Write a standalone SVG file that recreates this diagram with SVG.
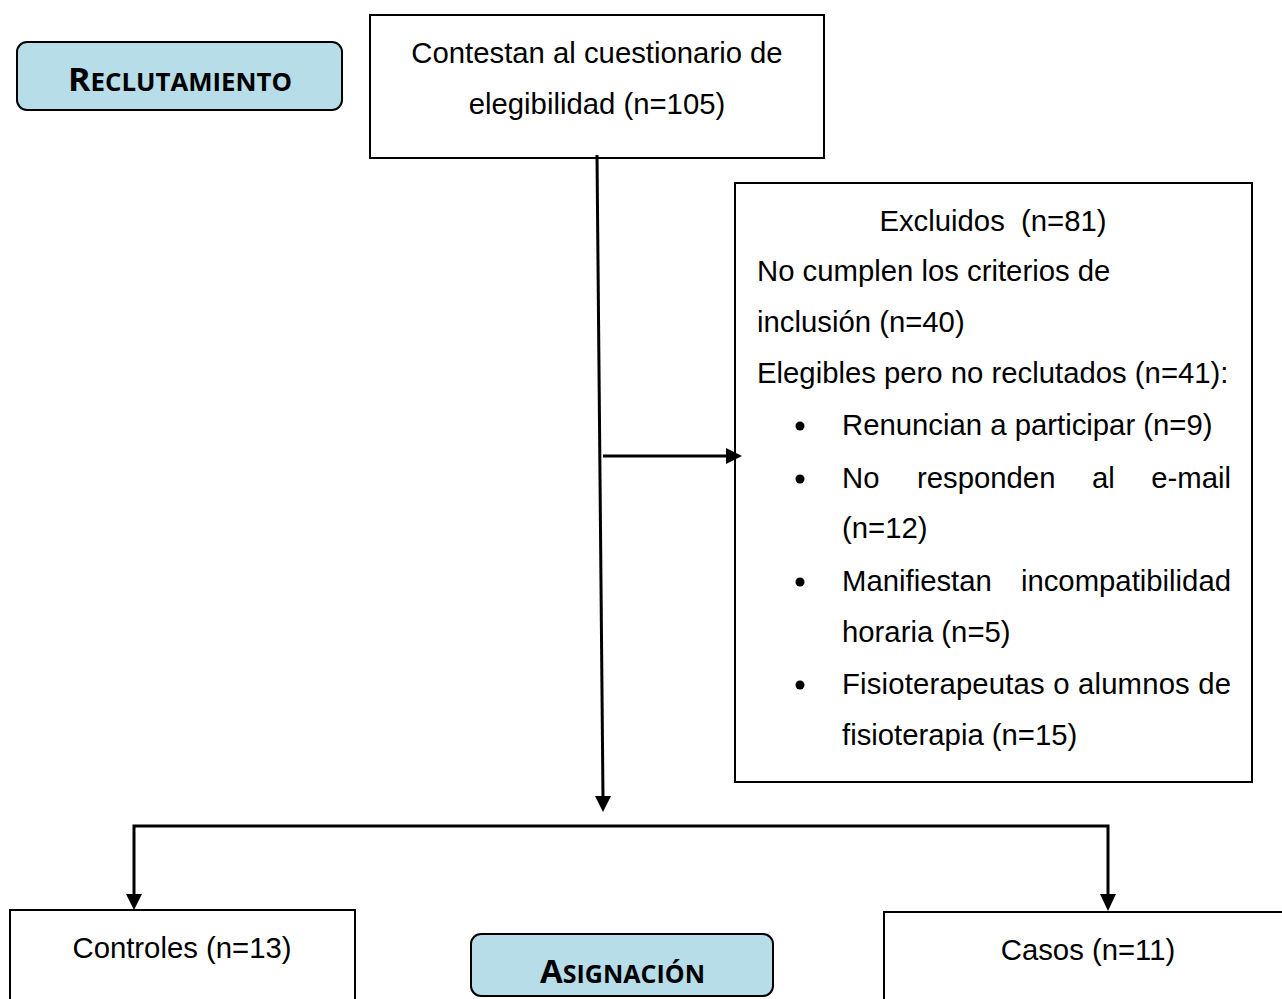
<svg xmlns="http://www.w3.org/2000/svg" width="1282" height="999" viewBox="0 0 1282 999">
<style>
.box{fill:#fff;stroke:#000;stroke-width:2}
.lbl{fill:#b7dde8;stroke:#000;stroke-width:2}
.t{font-family:"Liberation Sans",Arial,sans-serif;font-size:29.3px;fill:#000}
.h{font-family:"Open Sans","Liberation Sans",sans-serif;font-weight:bold;fill:#000}
.c{stroke:#000;stroke-width:3;fill:none}
.ah{fill:#000}
</style>
<rect width="1282" height="999" fill="#fff"/>
<g id="reclutamiento">
<rect class="lbl" x="17" y="42" width="325" height="68" rx="10"/>
<text class="h" x="68" y="91" font-size="25" textLength="224" lengthAdjust="spacingAndGlyphs"><tspan font-size="33">R</tspan>ECLUTAMIENTO</text>
</g>
<g id="contestan">
<rect class="box" x="370" y="15" width="454" height="143"/>
<text class="t" x="597" y="63" text-anchor="middle">Contestan al cuestionario de</text>
<text class="t" x="597" y="114" text-anchor="middle">elegibilidad (n=105)</text>
</g>
<g id="excluidos">
<rect class="box" x="735" y="183" width="517" height="599"/>
<text class="t" x="993" y="231" text-anchor="middle" xml:space="preserve">Excluidos  (n=81)</text>
<text class="t" x="757" y="281">No cumplen los criterios de</text>
<text class="t" x="757" y="332">inclusión (n=40)</text>
<text class="t" x="757" y="383">Elegibles pero no reclutados (n=41):</text>
<circle cx="800" cy="426" r="4.5"/>
<text class="t" x="842" y="435">Renuncian a participar (n=9)</text>
<circle cx="800" cy="479" r="4.5"/>
<text class="t" y="488"><tspan x="842">No</tspan><tspan x="917">responden</tspan><tspan x="1092">al</tspan><tspan x="1231" text-anchor="end">e-mail</tspan></text>
<text class="t" x="842" y="538">(n=12)</text>
<circle cx="800" cy="582" r="4.5"/>
<text class="t" y="591"><tspan x="842">Manifiestan</tspan><tspan x="1231" text-anchor="end">incompatibilidad</tspan></text>
<text class="t" x="842" y="642">horaria (n=5)</text>
<circle cx="800" cy="685" r="4.5"/>
<text class="t" x="842" y="694" textLength="389" lengthAdjust="spacing">Fisioterapeutas o alumnos de</text>
<text class="t" x="842" y="745">fisioterapia (n=15)</text>
</g>
<g id="controles">
<rect class="box" x="10" y="910" width="345" height="100"/>
<text class="t" x="182" y="958" text-anchor="middle">Controles (n=13)</text>
</g>
<g id="asignacion">
<rect class="lbl" x="471" y="934" width="302" height="62" rx="10"/>
<text class="h" x="540" y="983" font-size="25" textLength="165" lengthAdjust="spacingAndGlyphs"><tspan font-size="33">A</tspan>SIGNACIÓN</text>
</g>
<g id="casos">
<rect class="box" x="884" y="912" width="410" height="100"/>
<text class="t" x="1088" y="960" text-anchor="middle">Casos (n=11)</text>
</g>
<g id="connectors">
<line class="c" x1="597" y1="155" x2="603" y2="798"/>
<path class="ah" d="M595,796 L611,796 L603,812 Z"/>
<line class="c" x1="603" y1="456" x2="728" y2="456"/>
<path class="ah" d="M726,448 L742,456 L726,464 Z"/>
<polyline class="c" points="134,896 134,826 1108,826 1108,896"/>
<path class="ah" d="M126,894 L142,894 L134,910 Z"/>
<path class="ah" d="M1100,894 L1116,894 L1108,911 Z"/>
</g>
</svg>
